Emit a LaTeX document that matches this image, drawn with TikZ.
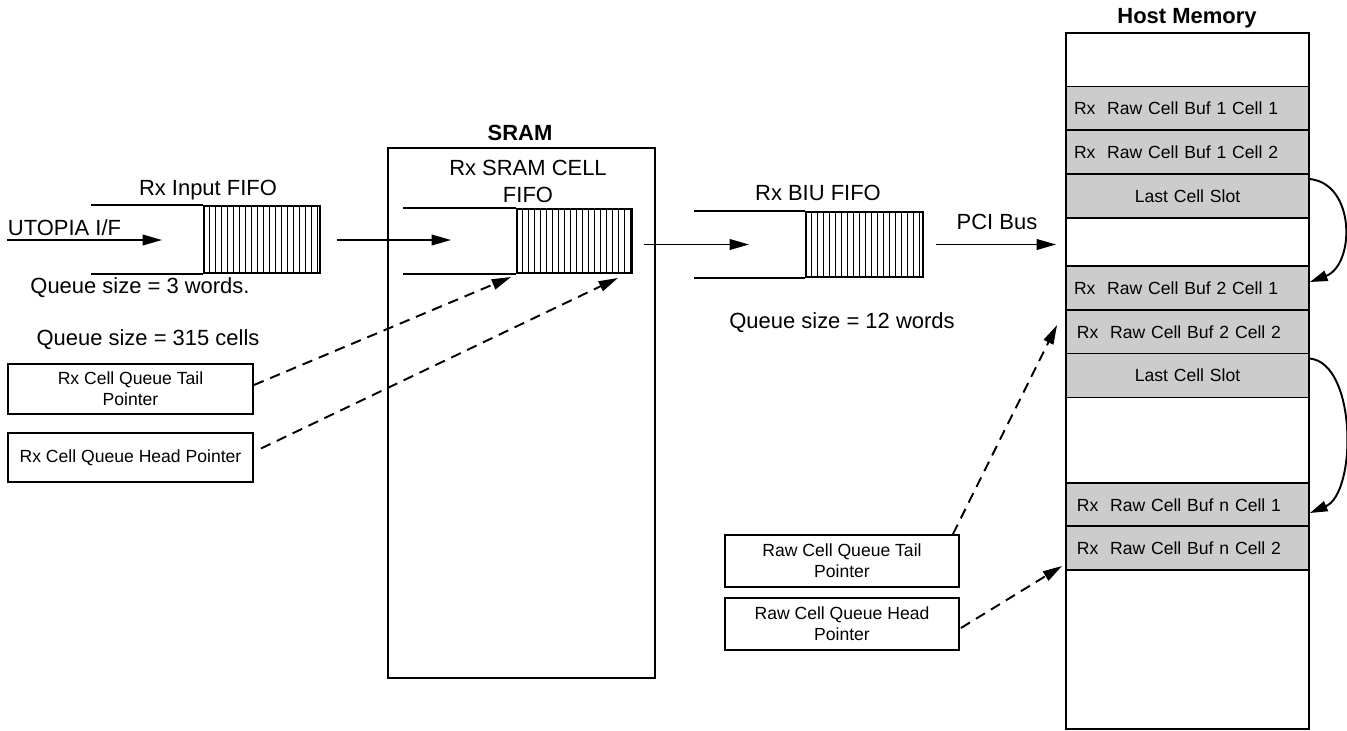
\documentclass[tikz,border=0pt]{standalone}
\usepackage{fontspec}
\setmainfont{Liberation Sans}
\usetikzlibrary{arrows.meta,positioning}

\begin{document}
\begin{tikzpicture}[x=0.02cm,y=-0.02cm,line width=1.1pt,
  every node/.style={inner sep=0pt},
  big/.style={font=\fontsize{12.5}{15.3}\selectfont},
  title/.style={font=\fontsize{12.5}{15}\selectfont\bfseries},
  rowbox/.style={draw,fill=black!20,minimum height=0.88cm,text width=4.54cm,inner xsep=0.16cm,align=left,font=\fontsize{10}{12}\selectfont},
  ptrbox/.style={draw,align=center,font=\fontsize{10}{12}\selectfont},
  flow/.style={-{Triangle[length=11pt,width=6pt]}},
  ptr/.style={flow,dash pattern=on 6pt off 4pt},
  link/.style={-{Triangle[length=10pt,width=6pt]}}]
\useasboundingbox (0,0) rectangle (1347,731);

% input fifo
\node[draw,minimum width=2.32cm,minimum height=1.34cm] (infifo) at (262,239.5) {};
\draw ([xshift=-2.24cm]infifo.north west) -- (infifo.north west);
\draw ([xshift=-2.24cm]infifo.south west) -- (infifo.south west);
\node[big] (inlabel) at (208,190) {Rx Input FIFO};
\node[big,anchor=base west] (utopialabel) at (7,235) {UTOPIA I/F};
\node[big] (inqueue) at (140,288) {Queue size = 3 words.};
\coordinate (utopia) at (7,240);
\draw[flow] (utopia) -- ([xshift=-0.82cm]infifo.west |- utopia);

% sram
\node[draw,minimum width=5.34cm,minimum height=10.6cm] (sram) at (521.5,413) {};
\node[title] (sramlabel) at (520,133) {SRAM};
\node[big,align=center] (sramfifolabel) at (528,181) {Rx SRAM CELL\\FIFO};
\node[draw,minimum width=2.3cm,minimum height=1.28cm] (sramfifo) at (574.5,241) {};
\draw ([xshift=-2.26cm]sramfifo.north west) -- (sramfifo.north west);
\draw ([xshift=-2.26cm]sramfifo.south west) -- (sramfifo.south west);
\node[big] (sramqueue) at (148,340) {Queue size = 315 cells};
\draw[flow] ([xshift=0.32cm]infifo.east |- utopia) -- ([xshift=-1.3cm]sramfifo.west |- utopia);

% biu fifo
\node[draw,minimum width=2.34cm,minimum height=1.3cm] (biufifo) at (864.5,244.5) {};
\draw ([xshift=-2.22cm]biufifo.north west) -- (biufifo.north west);
\draw ([xshift=-2.22cm]biufifo.south west) -- (biufifo.south west);
\node[big] (biulabel) at (818,193) {Rx BIU FIFO};
\node[big] (biuqueue) at (842,323) {Queue size = 12 words};
\draw[flow] ([xshift=0.22cm]sramfifo.east |- biufifo.west) -- ([xshift=-1.12cm]biufifo.west);

\foreach \f in {infifo,sramfifo,biufifo}
  \foreach \i in {6,12,...,114}
    \draw[line width=0.5pt] ([xshift=\i*0.02cm]\f.south west) -- ([xshift=\i*0.02cm]\f.north west);

% host memory
\node[draw,minimum width=4.86cm,minimum height=13.92cm] (host) at (1187.5,381) {};
\node[title] (hostlabel) at (1187,18) {Host Memory};
\node[rowbox] (b11) at (1187.5,108.5) {Rx~~Raw Cell Buf 1 Cell 1};
\node[rowbox] (b12) at (1187.5,152) {Rx~~Raw Cell Buf 1 Cell 2};
\node[rowbox,align=center] (last1) at (1187.5,196) {Last Cell Slot};
\node[rowbox] (b21) at (1187.5,288) {Rx~~Raw Cell Buf 2 Cell 1};
\node[rowbox] (b22) at (1187.5,332) {\,Rx~~Raw Cell Buf 2 Cell 2};
\node[rowbox,align=center] (last2) at (1187.5,375.5) {Last Cell Slot};
\node[rowbox] (bn1) at (1187.5,505) {\,Rx~~Raw Cell Buf n Cell 1};
\node[rowbox] (bn2) at (1187.5,548) {\,Rx~~Raw Cell Buf n Cell 2};
\node[big] (pcilabel) at (997,222) {PCI Bus};
\draw[flow] ([xshift=0.24cm]biufifo.east) -- ([xshift=-0.18cm]host.west |- biufifo.east);
\draw[link] ([yshift=-0.12cm]last1.north east) .. controls +(46,5) and +(45,-17) .. ([yshift=0.12cm]b21.east);
\draw[link] ([yshift=-0.12cm]last2.north east) .. controls +(47,5) and +(47,-20) .. ([yshift=-0.16cm]bn1.east);

% pointers
\node[ptrbox,minimum width=4.9cm,minimum height=1cm] (ltail) at (130.5,389) {Rx Cell Queue Tail\\Pointer};
\node[ptrbox,minimum width=4.9cm,minimum height=0.98cm] (lhead) at (130.5,457.5) {Rx Cell Queue Head Pointer};
\node[ptrbox,minimum width=4.68cm,minimum height=1.04cm] (rtail) at (842,561) {Raw Cell Queue Tail\\Pointer};
\node[ptrbox,minimum width=4.68cm,minimum height=1.04cm] (rhead) at (842,624) {Raw Cell Queue Head\\Pointer};
\draw[ptr] ([yshift=0.08cm]ltail.east) -- ([shift={(-5,3)}]sramfifo.south west);
\draw[ptr] ([shift={(7,-9)}]lhead.east) -- ([shift={(-15,4)}]sramfifo.south east);
\draw[ptr] ([xshift=-0.14cm]rtail.north east) -- ([shift={(-8,-7)}]b22.west);
\draw[ptr] ([shift={(1,4)}]rhead.east) -- ([shift={(-3,-5)}]bn2.south west);
\end{tikzpicture}
\end{document}
